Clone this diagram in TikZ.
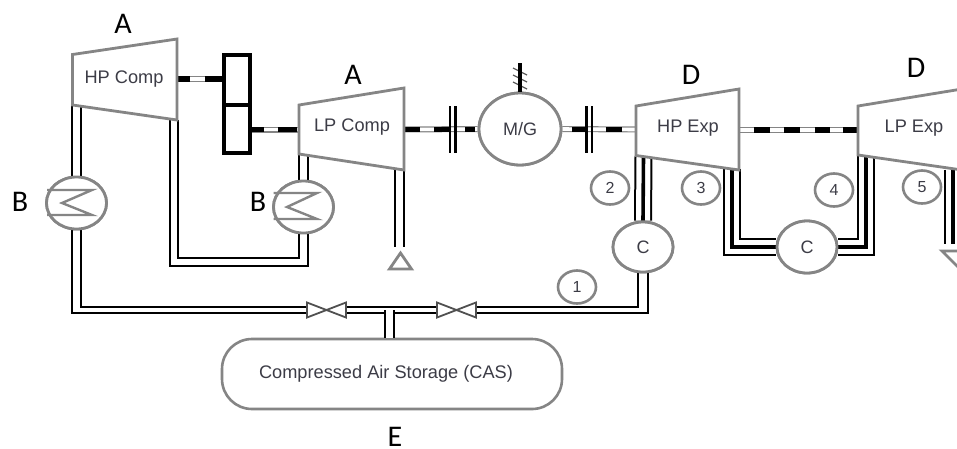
\documentclass[tikz,border=0pt]{standalone}
\usepackage{fontspec}
\setmainfont{Liberation Sans}
\newfontfamily\letterfont{Carlito}
\usetikzlibrary{shapes.geometric,calc}
\definecolor{eq}{HTML}{858585}
\definecolor{tx}{HTML}{3C3C46}
\tikzset{
  x=1pt,y=-1pt,
  equip/.style={draw=eq,line width=2.8pt,fill=white,line join=miter},
  vessel/.style={ellipse,draw=eq,line width=2.8pt,fill=white,inner sep=0pt,text=tx,font=\fontsize{18}{20}\selectfont},
  hx/.style={vessel,minimum width=60pt,minimum height=52pt},
  cooler/.style={vessel,minimum width=60pt,minimum height=50pt},
  tag/.style={vessel,line width=2.6pt,minimum width=38pt,minimum height=33pt,font=\fontsize{16}{18}\selectfont},
  eqlabel/.style={inner sep=0pt,text=tx,font=\fontsize{18.2}{22}\selectfont},
  letter/.style={inner sep=0pt,text=black,font=\letterfont\fontsize{30}{32}\selectfont},
  wall/.style={draw=black,line width=2pt,line join=miter},
  pipe/.style={draw=black,line width=2pt,double=white,double distance=6.5pt,line join=miter},
  pipewide/.style={draw=black,line width=2pt,double=white,double distance=14pt,line join=miter},
  core/.style={draw=black,line width=3.6pt,line join=miter},
  shaftbody/.style={draw=eq,line width=1.2pt,double=white,double distance=3.6pt},
  shaftblack/.style={draw=black,line width=5.6pt},
  zig/.style={draw=eq,line width=2.4pt,line join=miter},
}
\begin{document}
\begin{tikzpicture}
\clip (0,0) rectangle (957,448);
\fill[white] (0,0) rectangle (957,448);

% named attachment points
\coordinate (hpcIn) at (76.5,105);  \coordinate (hpcOut) at (174,120); \coordinate (hpcShaft) at (177,79);
\coordinate (lpcIn) at (303.5,154); \coordinate (lpcOut) at (399,170); \coordinate (lpcShaftL) at (299,129.5); \coordinate (lpcShaftR) at (404,129.5);
\coordinate (hpeIn) at (643.5,156); \coordinate (hpeOut) at (732,169); \coordinate (hpeShaftL) at (636,129.5); \coordinate (hpeShaftR) at (739,130);
\coordinate (lpeIn) at (866,155);   \coordinate (lpeOut) at (953,170); \coordinate (lpeShaftL) at (858,130);
\coordinate (gearL) at (222,79);    \coordinate (gearR) at (252,129.5);
\coordinate (v1L) at (307,310); \coordinate (v1C) at (327,310); \coordinate (v1R) at (346,310);
\coordinate (v2L) at (437,310); \coordinate (v2C) at (457,310); \coordinate (v2R) at (476,310);
\coordinate (ventUp) at (399,247);
\coordinate (ventDown) at (953,244);

% equipment nodes that pipes attach to
\node[hx] (hx1) at (76.5,203) {};
\node[hx] (hx2) at (303.5,207) {};
\node[cooler] (c1) at (643,247) {C};
\node[cooler,minimum height=52pt] (c2) at (807,247) {C};
\node[vessel,minimum width=82pt,minimum height=72pt] (mg) at (520,129) {M/G};

% pipes
\draw[pipe] (hx1.north) -- (hpcIn);
\draw[pipe] (hx2.north) -- (lpcIn);
\draw[pipe] (hx2.south) |- (174,262) -- (hpcOut);
\draw[pipe,double distance=7pt] (lpcOut) -- (ventUp);
% storage line
\draw[wall] ([xshift=-4.5pt]hx1.south) -- (72,313.3) -- ([yshift=-3.3pt]v1L);
\draw[wall] ([xshift=4.5pt]hx1.south) -- (81,306.7) -- ([yshift=3.3pt]v1L);
\draw[pipe,double distance=4.6pt] (v1R) -- (v2L);
\draw[wall] ([yshift=3.3pt]v2R) -| ([xshift=-5pt]c1.south);
\draw[wall] ([yshift=-3.3pt]v2R) -| ([xshift=5pt]c1.south);
% expander pipes
\draw[pipewide] (c1.north) -- (hpeIn);
\draw[core] (c1.north) -- (hpeIn);
\draw[pipewide] (c2.west) -| (hpeOut);
\draw[core] (c2.west) -| (hpeOut);
\draw[pipewide] (c2.east) -| (lpeIn);
\draw[core] (c2.east) -| (lpeIn);
\draw[pipewide] (lpeOut) -- (ventDown);
\draw[core] (lpeOut) -- (ventDown);

% redraw vessels over the pipes
\node[hx] (hx1) at (76.5,203) {};
\node[hx] (hx2) at (303.5,207) {};
\node[cooler] (c1) at (643,247) {C};
\node[cooler,minimum height=52pt] (c2) at (807,247) {C};

% storage vessel
\node[draw=eq,line width=2.6pt,fill=white,rounded corners=30pt,minimum width=340pt,minimum height=70pt,inner sep=0pt,anchor=center,eqlabel] (cas) at (392,374) {};
\node[eqlabel] (castext) at (386,374) {Compressed Air Storage (CAS)};
% tee to storage
\draw[pipe] (cas.north -| 389.5,0) -- (389.5,309.7);

% valves
\draw[draw=eq!60!black,line width=1.8pt,fill=white,line join=miter]
  ($(v1L)+(0,-7.5)$) -- ($(v1R)+(0,7.5)$) -- ($(v1R)+(0,-7.5)$) -- ($(v1L)+(0,7.5)$) -- cycle;
\draw[draw=eq!60!black,line width=1.8pt,fill=white,line join=miter]
  ($(v2L)+(0,-7.5)$) -- ($(v2R)+(0,7.5)$) -- ($(v2R)+(0,-7.5)$) -- ($(v2L)+(0,7.5)$) -- cycle;

% vents
\draw[equip] (389.5,269) -- (411.5,269) -- (400.5,253) -- cycle;
\draw[equip] (942,251) -- (975,251) -- (958,267) -- cycle;

% shafts
\draw[shaftbody] (hpcShaft) -- (gearL);
\draw[shaftblack] (178,79) -- (190,79) (205,79) -- (222,79);
\draw[shaftbody] (gearR) -- (lpcShaftL);
\draw[shaftblack] (250,129.5) -- (264,129.5) (278,129.5) -- (297,129.5);
\draw[shaftbody] (lpcShaftR) -- (mg.west);
\draw[shaftblack] (405,129.5) -- (420,129.5) (434,129.5) -- (450,129.5) (465,129.5) -- (475,129.5);
\draw[shaftbody] (mg.east) -- (hpeShaftL);
\draw[shaftblack] (572,129.5) -- (586,129.5) (606,129.5) -- (622,129.5);
\draw[shaftbody] (hpeShaftR) -- (lpeShaftL);
\draw[shaftblack] (754,130) -- (770,130) (784,130) -- (800,130) (815,130) -- (830,130) (843,130) -- (858,130);

% clutches
\draw[wall,line width=2.4pt] (450,106) -- (450,153) (455.5,106) -- (455.5,153);
\draw[wall,line width=2.4pt] (586.5,106) -- (586.5,153) (592,106) -- (592,153);

% gearbox
\draw[line width=4pt,draw=black,line join=miter] (224,55) rectangle (250,153) (224,104.7) -- (250,104.7);

% machines
\draw[equip] (72.5,54.5) -- (177,39) -- (177,120) -- (72.5,105) -- cycle;
\draw[equip] (299,105) -- (404,88) -- (404,170) -- (299,154) -- cycle;
\draw[equip] (636,106) -- (739,89) -- (739,170) -- (636,155.5) -- cycle;
\draw[equip] (858,106) -- (962,89) -- (962,170) -- (858,155) -- cycle;
\node[vessel,minimum width=82pt,minimum height=72pt] (mg) at (520,129) {M/G};

% machine labels
\node[eqlabel] (hpc) at (124,79) {HP Comp};
\node[eqlabel] (lpc) at (352,127.5) {LP Comp};
\node[eqlabel] (hpe) at (688,128) {HP Exp};
\node[eqlabel] (lpe) at (914,128) {LP Exp};

% heat exchanger coils
\draw[zig] (47,190) -- (92,190) -- (62,203) -- (92,215) -- (47,215);
\draw[zig] (273.5,193) -- (317,193) -- (287,207) -- (317,219) -- (273.5,219);

% ground
\draw[eq!70!black,line width=1.3pt] (513,68) -- (527,75) (513,75) -- (527,82) (513,82) -- (527,89);
\draw[draw=black,line width=3.6pt] (520,63) -- (mg.north);

% numbered tags
\node[tag] (t1) at (577,287) {1};
\node[tag] (t2) at (610,188) {2};
\node[tag] (t3) at (701,188) {3};
\node[tag] (t4) at (834,190) {4};
\node[tag] (t5) at (922,187) {5};

% letters
\node[letter] (la1) at (123,24) {A};
\node[letter] (la2) at (353,75) {A};
\node[letter] (lb1) at (20,202) {B};
\node[letter] (lb2) at (258,202) {B};
\node[letter] (ld1) at (691,75) {D};
\node[letter] (ld2) at (916,68) {D};
\node[letter] (le) at (395,436.5) {E};
\end{tikzpicture}
\end{document}
